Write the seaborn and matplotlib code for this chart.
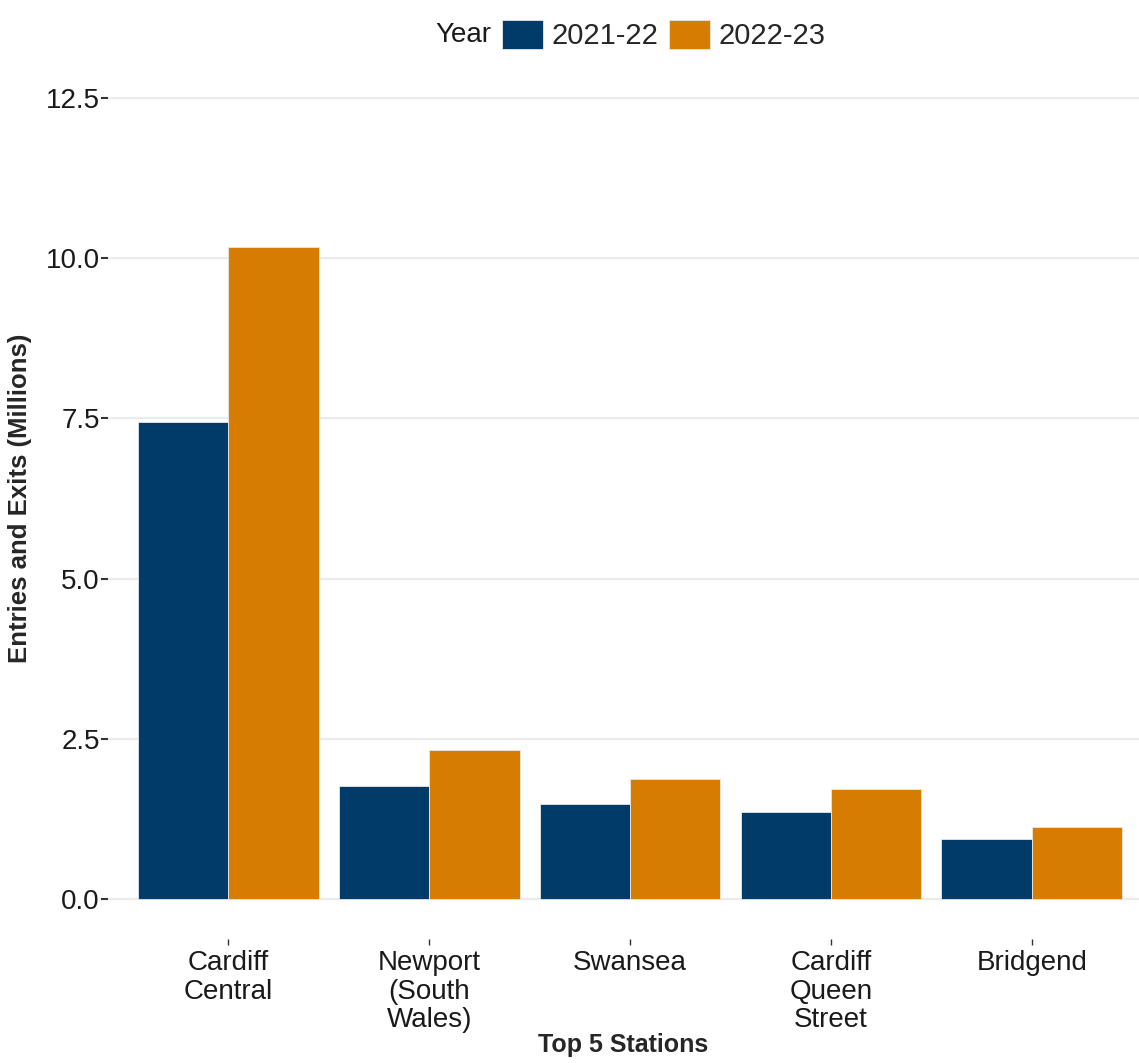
import pandas as pd
import matplotlib
matplotlib.use("Agg")
import matplotlib.pyplot as plt
import seaborn as sns

# Data (millions of entries and exits)
stations = ["Cardiff\nCentral", "Newport\n(South\nWales)", "Swansea", "Cardiff\nQueen\nStreet", "Bridgend"]
years = ["2021-22", "2022-23"]
values_2122 = [7.44, 1.76, 1.48, 1.36, 0.94]
values_2223 = [10.17, 2.33, 1.88, 1.71, 1.13]
yticks = [0.0, 2.5, 5.0, 7.5, 10.0, 12.5]

df = pd.DataFrame({
    "Station": stations * 2,
    "Year": [years[0]] * len(stations) + [years[1]] * len(stations),
    "Value": values_2122 + values_2223,
})

sns.set_theme(style="white")
plt.rcParams["font.family"] = ["Liberation Sans", "DejaVu Sans"]

fig = plt.figure(figsize=(11.39, 10.63), dpi=100)
ax = fig.add_axes([0.0948, 0.1166, 0.9052, 0.8288])

palette = {"2021-22": "#003B6A", "2022-23": "#D67C00"}
sns.barplot(data=df, x="Station", y="Value", hue="Year", hue_order=years,
            palette=palette, width=0.9, gap=0, saturation=1,
            edgecolor="#e8e8e8", linewidth=0.6, ax=ax, zorder=3)

ax.set_xlim(-0.6, 4.534)
ax.set_ylim(-0.625, 13.125)
ax.set_yticks(yticks)
ax.set_yticklabels([f"{v:.1f}" for v in yticks])
ax.yaxis.grid(True, color="#EBEBEB", linewidth=1.6, zorder=0)
ax.xaxis.grid(False)
for s in ax.spines.values():
    s.set_visible(False)

ax.tick_params(axis="y", length=5, width=1.5, color="#333333", pad=1,
               labelsize=20, labelcolor="#1a1a1a", left=True)
ax.tick_params(axis="x", length=4, width=1.0, color="#333333", pad=4,
               labelsize=20, labelcolor="#1a1a1a", bottom=True)
for lbl in ax.get_xticklabels():
    lbl.set_linespacing(1.12)

ax.set_xlabel("Top 5 Stations", fontsize=18, fontweight="bold", labelpad=0)
ax.set_ylabel("Entries and Exits (Millions)", fontsize=18.5, fontweight="bold", labelpad=10)

sns.move_legend(ax, "center", bbox_to_anchor=(0.583, 0.967),
                bbox_transform=fig.transFigure, ncol=2, title=None,
                frameon=False, fontsize=21, handlelength=1.4, handleheight=1.15,
                handletextpad=0.3, columnspacing=0.35)
fig.text(0.4065, 0.967, "Year", fontsize=20, ha="center", va="center", color="#1a1a1a")

fig.savefig("out.png", dpi=100)
